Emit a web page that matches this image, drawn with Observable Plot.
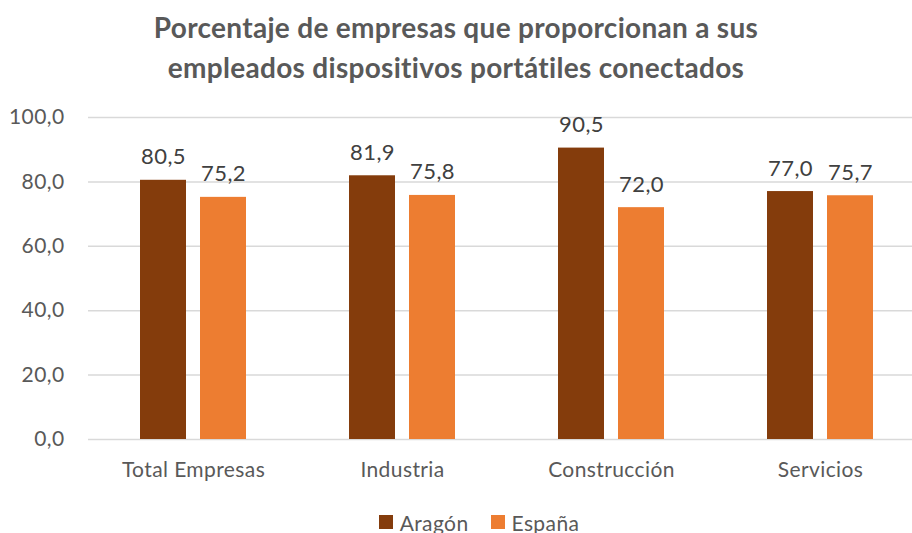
<!DOCTYPE html>
<html>
<head>
<meta charset="utf-8">
<script src="https://cdn.jsdelivr.net/npm/d3@7"></script>
<script src="https://cdn.jsdelivr.net/npm/@observablehq/plot@0.6"></script>
<style>
  html, body { margin: 0; padding: 0; background: #fff; width: 912px; height: 533px; overflow: hidden; }
  #title { font-family: Lato, "Open Sans", sans-serif; font-weight: bold; font-size: 28px; letter-spacing: 0.3px; color: #595959;
           text-align: center; line-height: 40px; padding-top: 7px; height: 88px; box-sizing: content-box; }
  #chart svg text { letter-spacing: 0.4px; }
  #legend { font-family: Lato, "Open Sans", sans-serif; font-size: 21px; letter-spacing: 0.4px; color: #595959; display: flex;
            justify-content: center; align-items: center; height: 34px; gap: 22px; padding-left: 46px; padding-top: 6px; }
  .item { display: flex; align-items: center; gap: 7px; }
  .sw { width: 14px; height: 14px; display: inline-block; }
</style>
</head>
<body>
<div id="title">Porcentaje de empresas que proporcionan a sus<br>empleados dispositivos portátiles conectados</div>
<div id="chart"></div>
<div id="legend"></div>
<script>
const categories = ["Total Empresas", "Industria", "Construcción", "Servicios"];
const seriesNames = ["Aragón", "España"];
const aragon = [80.5, 81.9, 90.5, 77.0];
const espana = [75.2, 75.8, 72.0, 75.7];
const yTicks = [0, 20, 40, 60, 80, 100];
const colors = ["#843C0C", "#ED7D31"];

const fmt = d => d.toFixed(1).replace(".", ",");
const dataA = categories.map((c, i) => ({cat: c, value: aragon[i]}));
const dataE = categories.map((c, i) => ({cat: c, value: espana[i]}));

const p = 0.78;
const chart = Plot.plot({
  width: 912,
  height: 404,
  marginTop: 22,
  marginBottom: 60,
  marginLeft: 88,
  marginRight: 0,
  style: {fontFamily: "Lato, 'Open Sans', sans-serif", color: "#595959", background: "#fff"},
  x: {domain: categories, range: [88, 924], paddingInner: p, paddingOuter: p / 2, label: null},
  y: {domain: [0, 100], range: [344, 22], label: null},
  marks: [
    Plot.ruleY(yTicks, {stroke: "#D9D9D9", strokeWidth: 1.5}),
    Plot.barY(dataA, {x: "cat", y: "value", fill: colors[0], dx: -30}),
    Plot.barY(dataE, {x: "cat", y: "value", fill: colors[1], dx: 30}),
    Plot.text(dataA, {x: "cat", y: "value", text: d => fmt(d.value), dx: -30, dy: -16, lineAnchor: "bottom", fontSize: 22, fill: "#404040"}),
    Plot.text(dataE, {x: "cat", y: "value", text: d => fmt(d.value), dx: 30, dy: -16, lineAnchor: "bottom", fontSize: 22, fill: "#404040"}),
    Plot.axisY({ticks: yTicks, tickFormat: fmt, tickSize: 0, tickPadding: 24, fontSize: 21, fill: "#595959", label: null}),
    Plot.axisX({tickSize: 0, tickPadding: 23, fontSize: 21, fill: "#595959", label: null})
  ]
});
document.getElementById("chart").appendChild(chart);

const legend = document.getElementById("legend");
seriesNames.forEach((n, i) => {
  const it = document.createElement("span");
  it.className = "item";
  it.innerHTML = `<span class="sw" style="background:${colors[i]}"></span><span>${n}</span>`;
  legend.appendChild(it);
});
</script>
</body>
</html>
